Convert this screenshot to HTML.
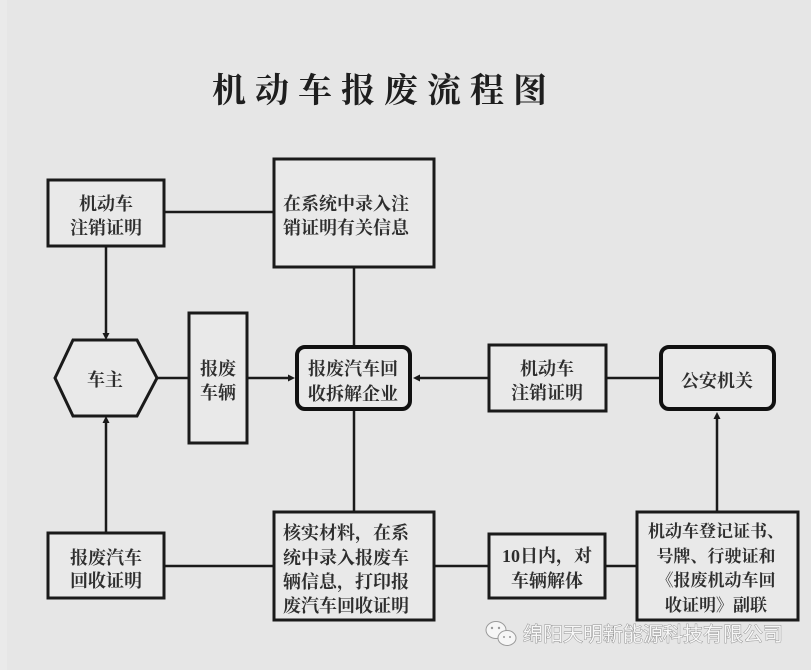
<!DOCTYPE html>
<html><head><meta charset="utf-8"><style>
html,body{margin:0;padding:0;background:#e6e6e6;}
svg{display:block;}
.t{font-family:"Liberation Serif","Noto Serif CJK SC","Noto Sans CJK SC",serif;font-weight:bold;font-size:18px;fill:#2e2e2e;}
</style></head><body>
<svg width="811" height="670" viewBox="0 0 811 670" xmlns="http://www.w3.org/2000/svg">
<rect x="0" y="0" width="811" height="670" fill="#e6e6e6"/>
<rect x="0" y="0" width="7" height="670" fill="#eaeaea"/>
<!-- title -->
<text x="212 255 298 341 384 427 470 513" y="102" style="font-family:'Noto Serif CJK SC','Noto Sans CJK SC',serif;font-weight:bold;font-size:34px;fill:#1e1e1e;">机动车报废流程图</text>

<g stroke="#1a1a1a" stroke-width="2.5" fill="none">
<!-- connectors -->
<line x1="164" y1="212" x2="274" y2="212"/>
<line x1="106" y1="246" x2="106" y2="334"/>
<line x1="106" y1="533" x2="106" y2="422"/>
<line x1="157" y1="378" x2="189" y2="378"/>
<line x1="247" y1="378" x2="289" y2="378"/>
<line x1="354" y1="267" x2="354" y2="345"/>
<line x1="354" y1="411" x2="354" y2="512"/>
<line x1="489" y1="378" x2="419" y2="378"/>
<line x1="606" y1="378" x2="659" y2="378"/>
<line x1="164" y1="566" x2="274" y2="566"/>
<line x1="434" y1="566" x2="489" y2="566"/>
<line x1="605" y1="566" x2="637" y2="566"/>
<line x1="717" y1="512" x2="717" y2="418"/>
</g>
<g fill="#1a1a1a">
<polygon points="106,340 102.5,333 109.5,333"/>
<polygon points="106,416 102.5,423 109.5,423"/>
<polygon points="295,378 288,374.5 288,381.5"/>
<polygon points="413,378 420,374.5 420,381.5"/>
<polygon points="717,412 713.5,419 720.5,419"/>
</g>

<g stroke="#1a1a1a" stroke-width="3" fill="#e9e9e9">
<rect x="48" y="180" width="116" height="66"/>
<rect x="274" y="159" width="160" height="108"/>
<polygon points="55,378 73,340 137,340 157,378 137,416 73,416"/>
<rect x="189" y="313" width="58" height="130"/>
<rect x="489" y="345" width="117" height="66"/>
<rect x="48" y="533" width="116" height="65"/>
<rect x="274" y="512" width="160" height="108"/>
<rect x="489" y="534" width="116" height="64"/>
<rect x="637" y="512" width="161" height="108"/>
</g>
<g stroke="#111" stroke-width="4" fill="#e9e9e9">
<rect x="297" y="347" width="113" height="62" rx="8" ry="8"/>
<rect x="661" y="347" width="113" height="62" rx="8" ry="8"/>
</g>

<!-- texts -->
<g class="t" text-anchor="middle">
<text x="106" y="210">机动车</text>
<text x="106" y="234">注销证明</text>
<text x="105" y="386">车主</text>
<text x="218" y="375">报废</text>
<text x="218" y="399">车辆</text>
<text x="353" y="375">报废汽车回</text>
<text x="353" y="400">收拆解企业</text>
<text x="547" y="375">机动车</text>
<text x="547" y="399">注销证明</text>
<text x="717" y="387">公安机关</text>
<text x="106" y="564">报废汽车</text>
<text x="106" y="587">回收证明</text>
<text x="547" y="562">10日内，对</text>
<text x="547" y="587">车辆解体</text>
</g>
<g class="t">
<text x="283" y="210">在系统中录入注</text>
<text x="283" y="234">销证明有关信息</text>
<text x="283" y="539">核实材料，在系</text>
<text x="283" y="564">统中录入报废车</text>
<text x="283" y="588">辆信息，打印报</text>
<text x="283" y="612">废汽车回收证明</text>
</g>
<g class="t" text-anchor="middle" style="font-size:17px">
<text x="716" y="537">机动车登记证书、</text>
<text x="716" y="562">号牌、行驶证和</text>
<text x="716" y="586">《报废机动车回</text>
<text x="716" y="611">收证明》副联</text>
</g>

<!-- watermark -->
<g stroke="#9a9a9a" stroke-width="1" fill="#f6f6f6">
<ellipse cx="496" cy="630" rx="10" ry="8.5"/>
<ellipse cx="507" cy="638" rx="9" ry="7.5"/>
</g>
<g fill="#9a9a9a">
<circle cx="492" cy="628" r="1.2"/><circle cx="499" cy="628" r="1.2"/>
<circle cx="504" cy="637" r="1"/><circle cx="510" cy="637" r="1"/>
</g>
<text x="523" y="641" style="font-family:'Noto Sans CJK SC',sans-serif;font-size:20px;fill:#f7f7f7;stroke:#8e8e8e;stroke-width:0.9px;paint-order:stroke;">绵阳天明新能源科技有限公司</text>
</svg>
</body></html>
